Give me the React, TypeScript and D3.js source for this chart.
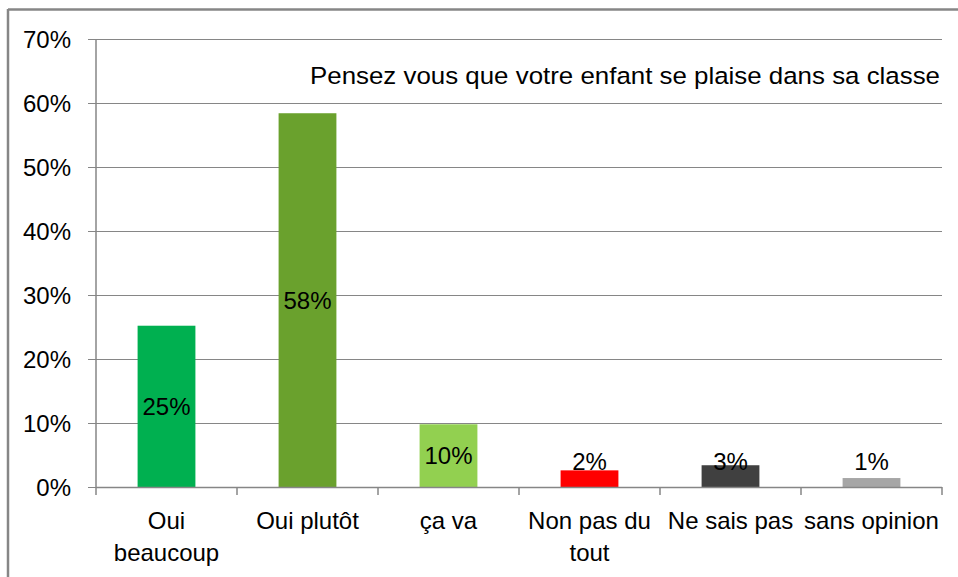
import React from "react";
import * as d3 from "d3";

const categories = ["Oui\nbeaucoup", "Oui plutôt", "ça va", "Non pas du\ntout", "Ne sais pas", "sans opinion"];
const values = [0.252, 0.584, 0.098, 0.026, 0.034, 0.014];
const valueLabels = ["25%", "58%", "10%", "2%", "3%", "1%"];
const colors = ["#00B050", "#6AA12D", "#92D050", "#FF0000", "#404040", "#A6A6A6"];
const yTicks = [0, 0.1, 0.2, 0.3, 0.4, 0.5, 0.6, 0.7];
const title = "Pensez vous que votre enfant se plaise dans sa classe";

const W = 958;
const H = 577;
const left = 96;
const right = 942;
const top = 39;
const bottom = 487;
const FONT = "'Liberation Sans', Arial, sans-serif";

export default function App() {
  const x = d3
    .scaleBand<number>()
    .domain(d3.range(categories.length))
    .range([left, right])
    .paddingInner(0.59)
    .paddingOuter(0.295);
  const step = x.step();
  const y = d3.scaleLinear().domain([0, 0.7]).range([bottom, top]);
  const fmt = d3.format(".0%");
  const gridColor = "#868686";

  return (
    <svg
      width={W}
      height={H}
      style={{ position: "absolute", left: 0, top: 0, display: "block" }}
      fontFamily={FONT}
    >
      <rect x={0} y={0} width={W} height={H} fill="#fff" />
      {/* outer border */}
      <line x1={8} y1={9.5} x2={W} y2={9.5} stroke={gridColor} strokeWidth={2.5} />
      <line x1={8} y1={9} x2={8} y2={H} stroke={gridColor} strokeWidth={2.5} />

      {/* gridlines + y ticks */}
      {yTicks.map((t) => (
        <g key={t}>
          {t > 0 && (
            <line x1={left} x2={right} y1={Math.round(y(t)) + 0.5} y2={Math.round(y(t)) + 0.5} stroke={gridColor} strokeWidth={1} />
          )}
          <line x1={left - 8} x2={left} y1={Math.round(y(t)) + 0.5} y2={Math.round(y(t)) + 0.5} stroke={gridColor} strokeWidth={1} />
          <text x={71} y={y(t) + 8.5} textAnchor="end" fontSize={24} fill="#000">
            {fmt(t)}
          </text>
        </g>
      ))}

      {/* bars */}
      {values.map((v, i) => (
        <rect
          key={i}
          x={x(i)!}
          y={y(v)}
          width={x.bandwidth()}
          height={bottom - y(v)}
          fill={colors[i]}
        />
      ))}

      {/* axes */}
      <line x1={left} x2={left} y1={top} y2={bottom} stroke={gridColor} strokeWidth={1.5} />
      <line x1={left} x2={right} y1={bottom + 0.5} y2={bottom + 0.5} stroke={gridColor} strokeWidth={1.5} />
      {d3.range(categories.length + 1).map((i) => (
        <line
          key={i}
          x1={left + i * step}
          x2={left + i * step}
          y1={bottom}
          y2={bottom + 8}
          stroke={gridColor}
          strokeWidth={1.5}
        />
      ))}

      {/* data labels */}
      {values.map((v, i) => {
        const cy = Math.min((y(v) + bottom) / 2, y(0.04));
        return (
          <text
            key={i}
            x={x(i)! + x.bandwidth() / 2}
            y={cy + 8.5}
            textAnchor="middle"
            fontSize={24}
            fill="#000"
          >
            {valueLabels[i]}
          </text>
        );
      })}

      {/* category labels */}
      {categories.map((c, i) => (
        <text key={i} textAnchor="middle" fontSize={24} fill="#000">
          {c.split("\n").map((line, j) => (
            <tspan key={j} x={x(i)! + x.bandwidth() / 2} y={529 + j * 32}>
              {line}
            </tspan>
          ))}
        </text>
      ))}

      {/* title */}
      <text x={310} y={84} fontSize={24.5} fill="#000" textLength={630} lengthAdjust="spacingAndGlyphs">
        {title}
      </text>
    </svg>
  );
}
